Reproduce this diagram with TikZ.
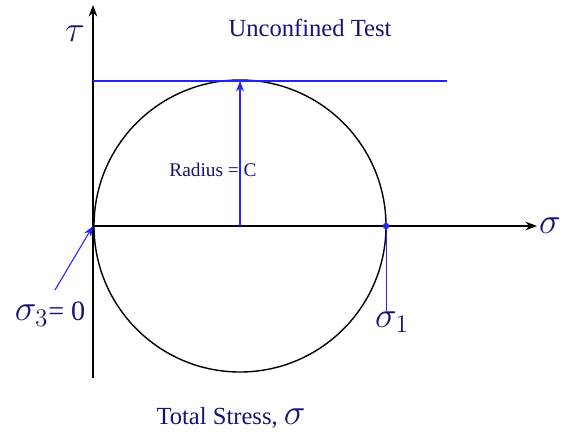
\documentclass[tikz,border=0pt]{standalone}
\usepackage{fontspec}
\setmainfont{Liberation Serif}
\usetikzlibrary{arrows.meta,positioning,calc}
\definecolor{navytext}{RGB}{20,20,115}
\definecolor{lineblue}{RGB}{35,35,255}
\begin{document}
\begin{tikzpicture}[x=0.02cm, y=-0.02cm, >=Stealth,
    lbl/.style={text=navytext, inner sep=0pt},
    bigsym/.style={lbl, font=\fontsize{22}{24}\selectfont}]
        \useasboundingbox (0,0) rectangle (562,437);
        \coordinate (O) at (93,226);
        \coordinate (ctr) at (240,226);
        \coordinate (s1pt) at (386,226);
        \coordinate (top) at (240,81);
        \coordinate (ybot) at (93,378);
        \coordinate (ytop) at (93,5);
        \coordinate (xend) at (537,226);
        \coordinate (envL) at (93,81);
        \coordinate (envR) at (447,81);
        \coordinate (s3tail) at (55,290);
        \draw[thick, ->] (ybot) -- (ytop);
        \draw[thick, ->] (O) -- (xend);
        \draw[thick] (ctr) circle (146);
        \draw[lineblue, semithick] (envL) -- (envR);
        \draw[lineblue, semithick, -{Stealth[length=6pt]}] (ctr) -- (top);
        \node[lbl, font=\fontsize{11}{13}\selectfont] (rad) at (213,170) {Radius = C};
        \node[lbl, font=\fontsize{14}{16}\selectfont] (title) at (310,28) {Unconfined Test};
        \node[bigsym] (tau) at (75,34) {$\tau$};
        \node[bigsym, right=1pt of xend] (sig) {$\sigma$};
        \node[lbl, font=\fontsize{14}{16}\selectfont] (total) at (231,418) {Total Stress, {\fontsize{22}{24}\selectfont$\sigma$}};
        \node[bigsym] (s1) at (392,322) {$\sigma_1$};
        \node[lbl, font=\fontsize{16}{18}\selectfont] (s3) at (50,314) {{\fontsize{22}{24}\selectfont$\sigma_3$}= 0};
        \fill[lineblue] (s1pt) circle (3.2);
        \draw[lineblue] (s1pt) -- (s1.north -| s1pt);
        \draw[lineblue, semithick, -{Stealth[length=6pt]}] (s3tail) -- (O);
      \end{tikzpicture}
\end{document}
